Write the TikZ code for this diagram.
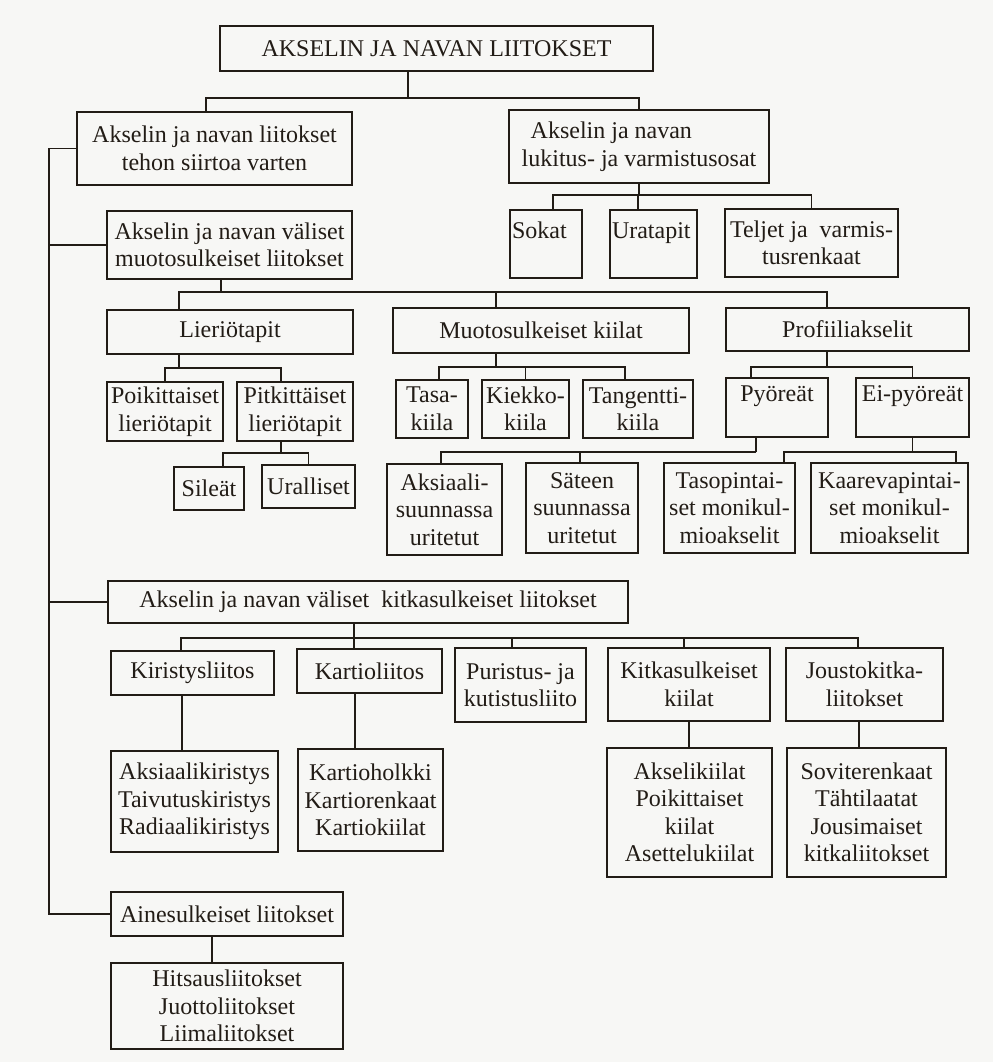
\documentclass[tikz,border=0pt]{standalone}
\usepackage{fontspec}
\setmainfont{Liberation Serif}
\usepackage{tikz}
\definecolor{ink}{RGB}{34,28,22}
\definecolor{paper}{RGB}{247,247,245}

\begin{document}
\begin{tikzpicture}[x=1pt, y=-1pt, line width=1.6pt, color=ink,
      every node/.append style={font=\fontsize{24}{27.5}\selectfont, inner sep=2pt}]
    \tikzstyle{box} = [draw, rectangle, align=center]
    \fill[paper] (0,0) rectangle (993,1062);
    \useasboundingbox (0,0) rectangle (993,1062);

    \node (top) [box, minimum width=433pt, minimum height=45pt] at (436.5,48.5) {AKSELIN JA NAVAN LIITOKSET};
    \node (tehon) [box, minimum width=275pt, minimum height=73pt] at (214.5,148.5) {Akselin ja navan liitokset\\tehon siirtoa varten};
    \node (lukitus) [box, align=left, minimum width=260pt, minimum height=73pt] at (639,146.5) {\hspace*{9pt}Akselin ja navan\\lukitus- ja varmistusosat};
    \node (sokat) [box, align=left, text width=68pt, minimum height=68pt] at (546,244) {Sokat\\\mbox{}};
    \node (uratapit) [box, align=left, text width=83pt, minimum height=68pt] at (653.5,244) {Uratapit\\\mbox{}};
    \node (teljet) [box, minimum width=173pt, minimum height=68pt] at (811.5,243) {Teljet ja\ \ varmis-\\tusrenkaat};
    \node (muotoliit) [box, minimum width=245pt, minimum height=68pt] at (229.5,245) {Akselin ja navan väliset\\muotosulkeiset liitokset};

    \node (lierio) [box, minimum width=246pt, minimum height=44pt] at (230,332) {Lieriötapit};
    \node (muotokiil) [box, minimum width=296pt, minimum height=45pt] at (541,330.5) {Muotosulkeiset kiilat};
    \node (profiili) [box, minimum width=243pt, minimum height=43pt] at (847.5,329.5) {Profiiliakselit};
    \node (poikit) [box, inner xsep=1pt, minimum width=116pt, minimum height=59pt] at (165,411.5) {Poikittaiset\\lieriötapit};
    \node (pitkit) [box, inner xsep=1pt, minimum width=116pt, minimum height=59pt] at (295,411.5) {Pitkittäiset\\lieriötapit};
    \node (sileat) [box, minimum width=70pt, minimum height=43pt] at (209,488.5) {Sileät};
    \node (uralliset) [box, minimum width=93pt, minimum height=43pt] at (308.5,486.5) {Uralliset};
    \node (tasa) [box, minimum width=72pt, minimum height=58pt] at (432,409) {Tasa-\\kiila};
    \node (kiekko) [box, minimum width=87pt, minimum height=58pt] at (525.5,409) {Kiekko-\\kiila};
    \node (tangentti) [box, minimum width=110pt, minimum height=58pt] at (638,409) {Tangentti-\\kiila};
    \node (pyoreat) [box, minimum width=102pt, minimum height=59pt] at (777,407.5) {Pyöreät\\\mbox{}};
    \node (eipyoreat) [box, minimum width=113pt, minimum height=59pt] at (912.5,407.5) {Ei-pyöreät\\\mbox{}};
    \node (aksiaali) [box, minimum width=115pt, minimum height=91pt] at (444.5,509.5) {Aksiaali-\\suunnassa\\uritetut};
    \node (sateen) [box, minimum width=112pt, minimum height=90pt] at (582,508) {Säteen\\suunnassa\\uritetut};
    \node (tasopint) [box, minimum width=131pt, minimum height=90pt] at (729.5,508) {Tasopintai-\\set monikul-\\mioakselit};
    \node (kaareva) [box, minimum width=157pt, minimum height=90pt] at (889.5,508) {Kaarevapintai-\\set monikul-\\mioakselit};

    \node (kitka) [box, minimum width=520pt, minimum height=42pt] at (368,602) {Akselin ja navan väliset\ \ kitkasulkeiset liitokset};
    \node (kiristys) [box, minimum width=163pt, minimum height=44pt] at (192.5,673) {Kiristysliitos};
    \node (kartio) [box, minimum width=145pt, minimum height=44pt] at (369.5,671) {Kartioliitos};
    \node (puristus) [box, minimum width=131pt, minimum height=74pt] at (520.5,685) {Puristus- ja\\kutistusliito};
    \node (kitkakiil) [box, minimum width=162pt, minimum height=73pt] at (689,684.5) {Kitkasulkeiset\\kiilat};
    \node (jousto) [box, minimum width=157pt, minimum height=73pt] at (864.5,684.5) {Joustokitka-\\liitokset};
    \node (kiristyslist) [box, minimum width=167pt, minimum height=101pt] at (194.5,801.5) {Aksiaalikiristys\\Taivutuskiristys\\Radiaalikiristys};
    \node (kartiolist) [box, minimum width=145pt, minimum height=102pt] at (370.5,800) {Kartioholkki\\Kartiorenkaat\\Kartiokiilat};
    \node (akselikiil) [box, minimum width=165pt, minimum height=129pt] at (689.5,812.5) {Akselikiilat\\Poikittaiset\\kiilat\\Asettelukiilat};
    \node (sovite) [box, minimum width=159pt, minimum height=129pt] at (866.5,812.5) {Soviterenkaat\\Tähtilaatat\\Jousimaiset\\kitkaliitokset};

    \node (ainesulk) [box, minimum width=232pt, minimum height=44pt] at (227,914) {Ainesulkeiset liitokset};
    \node (hitsaus) [box, minimum width=232pt, minimum height=86pt] at (227,1006) {Hitsausliitokset\\Juottoliitokset\\Liimaliitokset};

    \draw ([xshift=-28.5pt]top.south) -- ++(0,26) coordinate (b1);
    \draw (b1) -| ([xshift=-8.5pt]tehon.north);
    \draw (b1) -| (lukitus.north);

    \draw (lukitus.south) -- ++(0,11) coordinate (b2);
    \draw (b2) -| ([xshift=7pt]sokat.north);
    \draw (b2) -| ([xshift=-15.5pt]uratapit.north);
    \draw (b2) -| (teljet.north);

    \coordinate (spine) at (49,0);
    \draw (tehon.west) -| (spine |- ainesulk.west) -- (ainesulk.west);
    \draw (spine |- muotoliit.west) -- (muotoliit.west);
    \draw (spine |- kitka.west) -- (kitka.west);

    \draw ([xshift=-8.5pt]muotoliit.south) -- ++(0,12) coordinate (b3);
    \draw (b3) -| ([xshift=-51pt]lierio.north);
    \draw (b3) -| ([xshift=-45pt]muotokiil.north);
    \draw (b3) -| ([xshift=-20.5pt]profiili.north);

    \draw ([xshift=-51pt]lierio.south) -- ++(0,13) coordinate (b4);
    \draw (b4) -| (poikit.north);
    \draw (b4) -| ([xshift=-14pt]pitkit.north);

    \draw ([xshift=-14pt]pitkit.south) -- ++(0,11) coordinate (b5);
    \draw (b5) -| ([xshift=14pt]sileat.north);
    \draw (b5) -| (uralliset.north);

    \draw ([xshift=-45pt]muotokiil.south) -- ++(0,13) coordinate (b6);
    \draw (b6) -| ([xshift=7pt]tasa.north);
    \draw (b6) -| (kiekko.north);
    \draw (b6) -| ([xshift=-13pt]tangentti.north);

    \draw ([xshift=-20.5pt]profiili.south) -- ++(0,15) coordinate (b7);
    \draw (b7) -| ([xshift=-26pt]pyoreat.north);
    \draw (b7) -| (eipyoreat.north);

    \draw ([xshift=-21pt]pyoreat.south) -- ++(0,14) coordinate (b8);
    \draw (b8) -| ([xshift=-3.5pt]aksiaali.north);
    \draw (b8) -| ([xshift=-2pt]sateen.north);

    \draw (eipyoreat.south) -- ++(0,14) coordinate (b9);
    \draw (b9) -| ([xshift=54.5pt]tasopint.north);
    \draw (b9) -| ([xshift=66.5pt]kaareva.north);

    \draw ([xshift=-14pt]kitka.south) -- ++(0,14) coordinate (b10);
    \draw (b10) -| ([xshift=-11.5pt]kiristys.north);
    \draw (b10) -| ([xshift=-15.5pt]kartio.north);
    \draw (b10) -| ([xshift=-8.5pt]puristus.north);
    \draw (b10) -| ([xshift=-5pt]kitkakiil.north);
    \draw (b10) -| ([xshift=-6.5pt]jousto.north);

    \draw ([xshift=-10.5pt]kiristys.south) coordinate (v1) -- (v1 |- kiristyslist.north);
    \draw ([xshift=-14.5pt]kartio.south) coordinate (v2) -- (v2 |- kartiolist.north);
    \draw (kitkakiil.south) -- (kitkakiil.south |- akselikiil.north);
    \draw ([xshift=-5.5pt]jousto.south) coordinate (v4) -- (v4 |- sovite.north);
    \draw ([xshift=-15pt]ainesulk.south) coordinate (v5) -- (v5 |- hitsaus.north);
  \end{tikzpicture}
\end{document}
